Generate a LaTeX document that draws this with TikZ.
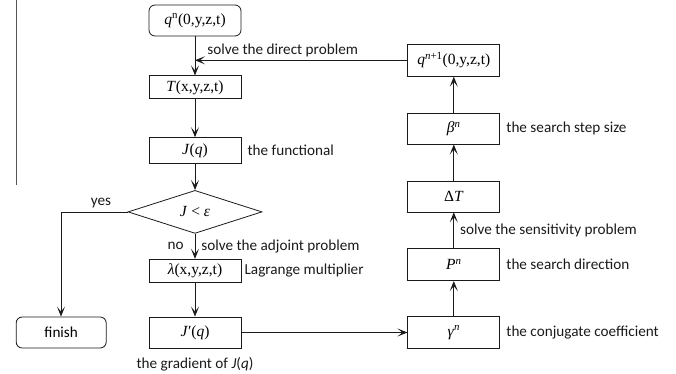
\documentclass[tikz,border=0pt]{standalone}
\usepackage{fontspec}
\setmainfont{Carlito}
\newfontfamily\tms{Liberation Serif}
\usetikzlibrary{arrows.meta,positioning,shapes.geometric}
\definecolor{Ink}{HTML}{1A1A1A}
\definecolor{Faint}{HTML}{555555}
\tikzset{
  box/.style={draw=Ink,fill=white,line width=.8pt,minimum width=92pt,minimum height=31pt,align=center,font=\tms\fontsize{15.5}{18}\selectfont},
  rbox/.style={box,rounded corners=6pt},
  decision/.style={draw=Ink,line width=.8pt,diamond,aspect=3.1,minimum width=134pt,minimum height=43pt,inner sep=0pt,font=\tms\fontsize{15.5}{18}\selectfont},
  tag/.style={font=\fontsize{15.2}{17}\selectfont,text=Ink,inner sep=1pt},
  flow/.style={-{Stealth[length=10pt,width=8pt,inset=5pt]},draw=Ink,line width=.8pt},
  faintline/.style={draw=Faint,line width=.8pt}
}
\begin{document}
\begin{tikzpicture}[x=1pt,y=-1pt]
  \useasboundingbox (0,0) rectangle (676,374);
  \draw[faintline] (16,0) -- (16,185);
  % left column
  \node[rbox] (qn) at (195,20.5) {\textit{q}\textsuperscript{n}(0,y,z,t)};
  \node[box,minimum height=23pt,below=39pt of qn] (temp) {\textit{T}(x,y,z,t)};
  \node[box,minimum height=26pt,below=38pt of temp] (func) {\textit{J}(\textit{q})};
  \node[decision,below=26pt of func] (cond) {\textit{J} < \textit{ε}};
  \node[box,minimum height=23pt,below=25pt of cond] (lam) {\textit{λ}(x,y,z,t)};
  \node[box,below=34pt of lam] (grad) {\textit{J}′(\textit{q})};
  \node[rbox,minimum width=90pt,left=42pt of grad] (finish) {\fontspec{Carlito}\fontsize{15.2}{17}\selectfont finish};
  % right column
  \node[box,minimum height=32pt,right=166pt of grad] (gam) {\textit{γ}\textsuperscript{\textit{n}}};
  \node[box,minimum height=32pt,above=35pt of gam] (dir) {\textit{P}\textsuperscript{\textit{n}}};
  \node[box,above=36pt of dir] (dT) {Δ\textit{T}};
  \node[box,above=36pt of dT] (beta) {\textit{β}\textsuperscript{\textit{n}}};
  \node[box,minimum height=32pt,above=36pt of beta] (qn1) {\textit{q}\textsuperscript{\textit{n}+1}(0,y,z,t)};
  % labels
  \node[tag,right=5pt of func] {the functional};
  \node[tag,right=2pt of lam] {Lagrange multiplier};
  \node[tag,below=8pt of grad] {the gradient of \textit{J}(\textit{q})};
  \node[tag,right=5pt of beta] {the search step size};
  \node[tag,right=5pt of dir] {the search direction};
  \node[tag,right=5pt of gam] {the conjugate coefficient};
  % connectors
  \draw[flow] (qn) -- (temp);
  \draw[flow] (qn1.west) -- node[tag,pos=1,anchor=south west,xshift=11pt,yshift=2pt]{solve the direct problem} (qn1.west -| qn.south);
  \draw[flow] (temp) -- (func);
  \draw[flow] (func) -- (cond);
  \draw[flow] (cond) -- node[tag,right,xshift=5pt]{solve the adjoint problem} node[tag,left,xshift=-10pt]{no} (lam);
  \draw[flow] (cond.west) -| node[tag,pos=.2,above,yshift=3pt]{yes} (finish.north -| 61,0);
  \draw[flow] (lam) -- (grad);
  \draw[flow] (grad) -- (gam);
  \draw[flow] (gam) -- (dir);
  \draw[flow] (dir) -- node[tag,right,xshift=5pt]{solve the sensitivity problem} (dT);
  \draw[flow] (dT) -- (beta);
  \draw[flow] (beta) -- (qn1);
\end{tikzpicture}
\end{document}
